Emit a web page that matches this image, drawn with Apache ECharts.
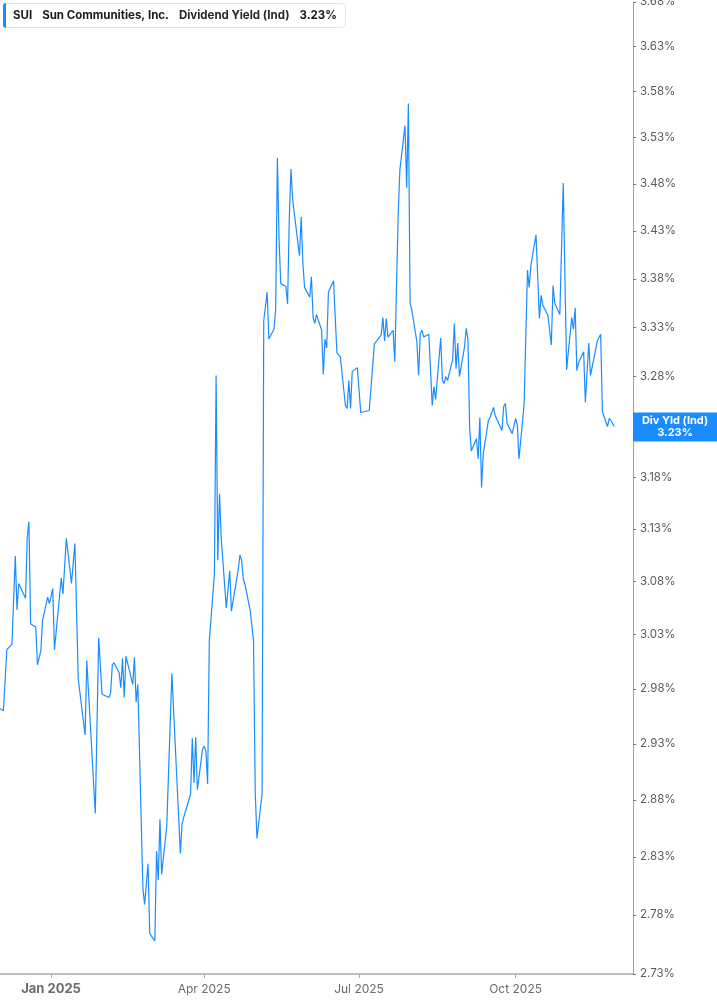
<!DOCTYPE html>
<html>
<head>
<meta charset="utf-8">
<title>SUI Dividend Yield</title>
<script src="https://cdn.jsdelivr.net/npm/echarts@6/dist/echarts.min.js"></script>
<style>
  html, body { margin: 0; padding: 0; background: #fff; }
  #main { width: 717px; height: 1005px; }
</style>
</head>
<body>
<div id="main"></div>
<script>
// trading dates (one per visible vertex)
var dates = [
  '2024-12-02','2024-12-04','2024-12-06','2024-12-09','2024-12-11','2024-12-12','2024-12-13','2024-12-17','2024-12-18','2024-12-19','2024-12-20','2024-12-23','2024-12-24','2024-12-26','2024-12-27','2024-12-30','2024-12-31',
  '2025-01-02','2025-01-03','2025-01-07','2025-01-08','2025-01-10','2025-01-13','2025-01-15','2025-01-17','2025-01-21','2025-01-22','2025-01-27','2025-01-29','2025-01-31',
  '2025-02-04','2025-02-05','2025-02-06','2025-02-07','2025-02-10','2025-02-11','2025-02-12','2025-02-13','2025-02-14','2025-02-18','2025-02-19','2025-02-20','2025-02-21','2025-02-24','2025-02-25','2025-02-27','2025-02-28',
  '2025-03-03','2025-03-04','2025-03-05','2025-03-06','2025-03-07','2025-03-10','2025-03-13','2025-03-18','2025-03-19','2025-03-21','2025-03-24','2025-03-25','2025-03-26','2025-03-27','2025-03-28','2025-03-31',
  '2025-04-01','2025-04-02','2025-04-03','2025-04-04','2025-04-07','2025-04-08','2025-04-09','2025-04-10','2025-04-11','2025-04-14','2025-04-16','2025-04-17','2025-04-21','2025-04-22','2025-04-23','2025-04-24','2025-04-25','2025-04-28','2025-04-29','2025-04-30',
  '2025-05-01','2025-05-02','2025-05-05','2025-05-06','2025-05-07','2025-05-08','2025-05-09','2025-05-12','2025-05-13','2025-05-14','2025-05-15','2025-05-16','2025-05-19','2025-05-20','2025-05-21','2025-05-22','2025-05-23','2025-05-27','2025-05-28','2025-05-29','2025-05-30',
  '2025-06-02','2025-06-03','2025-06-04','2025-06-05','2025-06-06','2025-06-09','2025-06-10','2025-06-11','2025-06-12','2025-06-13','2025-06-16','2025-06-18','2025-06-20','2025-06-23','2025-06-24','2025-06-25','2025-06-26','2025-06-27','2025-06-30',
  '2025-07-02','2025-07-07','2025-07-08','2025-07-09','2025-07-10','2025-07-11','2025-07-14','2025-07-15','2025-07-16','2025-07-17','2025-07-18','2025-07-21','2025-07-22','2025-07-24','2025-07-25','2025-07-28','2025-07-29','2025-07-30','2025-07-31',
  '2025-08-01','2025-08-04','2025-08-05','2025-08-06','2025-08-07','2025-08-08','2025-08-11','2025-08-13','2025-08-14','2025-08-15','2025-08-18','2025-08-19','2025-08-20','2025-08-21','2025-08-22','2025-08-25','2025-08-26','2025-08-27','2025-08-28','2025-08-29',
  '2025-09-01','2025-09-02','2025-09-03','2025-09-04','2025-09-05','2025-09-08','2025-09-09','2025-09-10','2025-09-11','2025-09-12','2025-09-15','2025-09-16','2025-09-17','2025-09-18','2025-09-19','2025-09-23','2025-09-24','2025-09-25','2025-09-26','2025-09-29',
  '2025-10-01','2025-10-02','2025-10-03','2025-10-06','2025-10-08','2025-10-09','2025-10-10','2025-10-13','2025-10-15','2025-10-16','2025-10-17','2025-10-20','2025-10-22','2025-10-23','2025-10-24','2025-10-27','2025-10-29','2025-10-31',
  '2025-11-03','2025-11-04','2025-11-05','2025-11-06','2025-11-07','2025-11-10','2025-11-11','2025-11-13','2025-11-14','2025-11-18','2025-11-19','2025-11-20','2025-11-21','2025-11-24','2025-11-25','2025-11-26','2025-11-28'
];

// dividend yield (%) at each date above
var yields = [
  2.962, 2.960, 3.016, 3.021, 3.104, 3.053, 3.078, 3.064, 3.122, 3.137, 3.040, 3.037, 3.002, 3.015, 3.043, 3.065, 3.059,
  3.073, 3.016, 3.083, 3.068, 3.121, 3.078, 3.116, 2.989, 2.938, 3.006, 2.868, 3.027, 2.975,
  2.972, 2.976, 3.002, 3.004, 2.995, 2.981, 3.008, 2.972, 3.010, 2.984, 3.009, 2.968, 2.984, 2.802, 2.789, 2.824, 2.764,
  2.758, 2.835, 2.810, 2.863, 2.815, 2.857, 2.994, 2.833, 2.859, 2.870, 2.885, 2.935, 2.895, 2.936, 2.889, 2.925,
  2.928, 2.923, 2.894, 3.024, 3.087, 3.281, 3.100, 3.164, 3.121, 3.055, 3.090, 3.052, 3.091, 3.105, 3.100, 3.082, 3.077, 3.053, 3.052, 3.024,
  2.887, 2.846, 2.885, 3.337, 3.339, 3.366, 3.318, 3.328, 3.348, 3.508, 3.421, 3.375, 3.372, 3.354, 3.443, 3.496, 3.463, 3.404, 3.445, 3.396, 3.371,
  3.361, 3.382, 3.340, 3.334, 3.343, 3.327, 3.282, 3.318, 3.309, 3.366, 3.378, 3.304, 3.300, 3.251, 3.248, 3.276, 3.248, 3.285, 3.289,
  3.244, 3.246, 3.268, 3.268, 3.313, 3.315, 3.322, 3.340, 3.316, 3.339, 3.320, 3.327, 3.295, 3.447, 3.495, 3.543, 3.476, 3.567, 3.355,
  3.348, 3.315, 3.281, 3.324, 3.327, 3.320, 3.323, 3.251, 3.270, 3.257, 3.319, 3.276, 3.273, 3.280, 3.276, 3.297, 3.334, 3.288, 3.314, 3.280,
  3.310, 3.329, 3.318, 3.228, 3.206, 3.218, 3.198, 3.239, 3.170, 3.203, 3.236, 3.239, 3.240, 3.249, 3.241, 3.226, 3.250, 3.253, 3.233, 3.223,
  3.238, 3.232, 3.198, 3.252, 3.389, 3.371, 3.394, 3.426, 3.339, 3.363, 3.353, 3.342, 3.312, 3.373, 3.355, 3.343, 3.481, 3.287,
  3.340, 3.328, 3.350, 3.286, 3.294, 3.305, 3.254, 3.314, 3.281, 3.316, 3.315, 3.323, 3.245, 3.230, 3.238, 3.236, 3.23
];

var yTicks = [2.73, 2.78, 2.83, 2.88, 2.93, 2.98, 3.03, 3.08, 3.13, 3.18, 3.23, 3.28, 3.33, 3.38, 3.43, 3.48, 3.53, 3.58, 3.63, 3.68];
var xTicks = ['2025-01-01', '2025-04-01', '2025-07-01', '2025-10-01'];
var xRange = ['2024-12-02', '2025-12-09'];
var monthNames = ['Jan', 'Feb', 'Mar', 'Apr', 'May', 'Jun', 'Jul', 'Aug', 'Sep', 'Oct', 'Nov', 'Dec'];
var lastYield = 3.23;

var blue = '#1a8cff';
var chart = echarts.init(document.getElementById('main'));

function toTime(s) {
  return +new Date(s + 'T00:00:00');
}

// the source chart uses a log price scale, so plot ln(yield) on a value axis
var seriesData = dates.map(function (d, i) {
  return [toTime(d), Math.log(yields[i])];
});
var yTickLogs = yTicks.map(function (v) { return Math.log(v); });
var xTickTimes = xTicks.map(toTime);

var option = {
  animation: false,
  textStyle: { fontFamily: 'Inter, "Noto Sans", sans-serif' },
  title: {
    left: 3,
    top: 3,
    padding: [0, 9, 0, 0],
    backgroundColor: '#fff',
    borderColor: '#e4e4e4',
    borderWidth: 1,
    borderRadius: 4,
    text: '{bar|}{s|SUI}{c|Sun Communities, Inc.}{d|Dividend Yield (Ind)}{v|' + lastYield.toFixed(2) + '%}',
    textStyle: {
      rich: {
        bar: { width: 3, height: 25, backgroundColor: blue, borderRadius: [3, 0, 0, 3] },
        s: { fontWeight: 'bold', fontSize: 11.5, color: '#1a1a1a', padding: [0, 0, 0, 7] },
        c: { fontWeight: 'bold', fontSize: 11.5, color: '#1a1a1a', padding: [0, 0, 0, 10] },
        d: { fontSize: 11.5, color: '#262626', padding: [0, 0, 0, 10] },
        v: { fontWeight: 'bold', fontSize: 11.5, color: '#1a1a1a', padding: [0, 0, 0, 10] }
      }
    }
  },
  grid: { left: 0, right: 84, top: 2, bottom: 31, outerBoundsMode: 'none' },
  xAxis: {
    type: 'value',
    min: toTime(xRange[0]),
    max: toTime(xRange[1]),
    axisLine: { lineStyle: { color: '#ababab', width: 1.5 } },
    axisTick: { show: true, customValues: xTickTimes, length: 4, lineStyle: { color: '#ababab' } },
    axisLabel: {
      customValues: xTickTimes,
      color: '#6b6b6b',
      fontSize: 12,
      margin: 9,
      formatter: function (val) {
        var d = new Date(val);
        var txt = monthNames[d.getMonth()] + ' ' + d.getFullYear();
        return d.getMonth() === 0 ? '{b|' + txt + '}' : txt;
      },
      rich: {
        b: { fontWeight: 'bold', fontSize: 13, color: '#6b6b6b' }
      }
    },
    splitLine: { show: false }
  },
  yAxis: {
    type: 'value',
    position: 'right',
    min: yTickLogs[0],
    max: yTickLogs[yTickLogs.length - 1],
    axisLine: { show: true, lineStyle: { color: '#9e9e9e' } },
    axisTick: { show: true, customValues: yTickLogs, length: 3, lineStyle: { color: '#777' } },
    axisLabel: {
      customValues: yTickLogs,
      color: '#5a5a5a',
      fontSize: 11.5,
      margin: 7,
      formatter: function (v) { return Math.exp(v).toFixed(2) + '%'; }
    },
    splitLine: { show: false }
  },
  series: [{
    type: 'line',
    name: 'Div Yld (Ind)',
    data: seriesData,
    showSymbol: false,
    lineStyle: { color: blue, width: 1.2 },
    itemStyle: { color: blue }
  }]
};
chart.setOption(option);

// current-value tag on the right axis
var tagY = chart.convertToPixel({ yAxisIndex: 0 }, Math.log(lastYield));
var axisX = 717 - 84;
chart.setOption({
  graphic: [{
    type: 'rect',
    z: 100,
    shape: { x: axisX, y: tagY - 14, width: 84, height: 29 },
    style: { fill: blue }
  }, {
    type: 'text',
    z: 101,
    x: axisX + 42,
    y: tagY + 0.5,
    style: {
      text: 'Div Yld (Ind)\n' + lastYield.toFixed(2) + '%',
      fill: '#fff',
      font: 'bold 11px Inter, "Noto Sans", sans-serif',
      lineHeight: 12,
      align: 'center',
      verticalAlign: 'middle'
    }
  }]
});
</script>
</body>
</html>
